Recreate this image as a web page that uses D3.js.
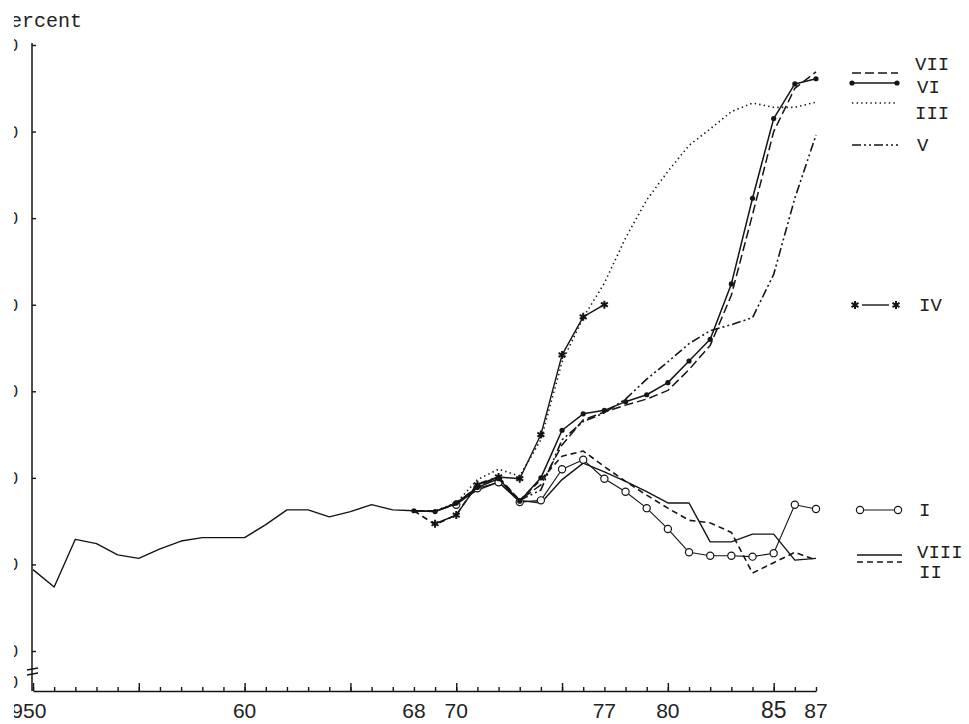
<!DOCTYPE html>
<html>
<head>
<meta charset="utf-8">
<script src="https://cdn.jsdelivr.net/npm/d3@7"></script>
<style>
    body{margin:0;background:#fff;}
    svg{display:block;}
    .ln{fill:none;stroke:#151515;stroke-linejoin:round;stroke-linecap:butt;}
    .ax path,.ax line{stroke:#151515;stroke-width:1.4px;}
    .ax text{font-family:"Liberation Sans",sans-serif;font-size:17px;fill:#222;}
    .mono{font-family:"Liberation Mono",monospace;fill:#222;}
    .xl{font-family:"Liberation Sans",sans-serif;font-size:21px;fill:#222;}
</style>
</head>
<body>
<div id="chart"></div>
<script>
// values (percent), one array per series, first year given separately
var seriesVIII = [19.4,17.4,22.9,22.4,21.1,20.7,21.8,22.7,23.1,23.1,23.1,24.6,26.3,26.3,25.5,26.1,26.9,26.3,26.2,
                  26.1,27.0,28.6,29.5,27.4,27.1,29.8,31.7,30.7,29.6,28.4,27.1,27.1,22.6,22.6,23.5,23.5,20.5,20.7]; // 1950-87
var seriesVI  = [26.2,26.1,27.1,28.9,29.9,27.3,30.0,35.5,37.4,37.8,38.8,39.6,41.0,43.5,46.0,52.4,62.3,71.5,75.5,76.1]; // 1968-87
var seriesVII = [26.2,26.2,26.9,29.1,30.0,27.4,29.2,33.8,36.7,37.6,38.4,39.1,40.1,42.5,45.3,51.1,60.4,70.0,75.0,76.9]; // 1968-87
var seriesIII = [26.2,26.2,27.1,29.8,31.0,30.2,34.4,43.4,48.5,52.5,57.7,62.1,65.4,68.4,70.3,72.3,73.3,72.8,72.8,73.4]; // 1968-87
var seriesIV  = [24.7,25.7,29.2,30.1,29.9,35.0,44.2,48.6,50.0]; // 1969-77
var seriesV   = [27.4,28.6,34.4,36.5,37.5,39.1,41.4,43.4,45.5,47.0,47.7,48.5,53.5,62.3,69.6]; // 1973-87
var seriesII  = [26.2,24.6,25.7,29.3,30.1,27.4,29.8,32.5,33.1,31.3,29.6,28.0,26.5,25.1,24.8,23.7,19.0,20.2,21.4,20.5]; // 1968-87
var seriesI   = [26.9,28.8,29.5,27.2,27.4,31.0,32.1,29.9,28.4,26.5,24.1,21.4,21.0,21.0,20.9,21.3,26.9,26.4]; // 1970-87

var seriesNames  = ["VIII","II","I","V","III","VII","VI","IV"];
var seriesStart  = [1950,1968,1970,1973,1968,1968,1968,1969];
var seriesValues = [seriesVIII,seriesII,seriesI,seriesV,seriesIII,seriesVII,seriesVI,seriesIV];

var yTickValues = [10,20,30,40,50,60,70,80];
var xLabelYears = [1950,1960,1968,1970,1977,1980,1985,1987];
var xLabelText  = ["1950","60","68","70","77","80","85","87"];
var legendNames = ["VII","VI","III","V","IV","I","VIII","II"];

var W = 969, H = 724;

var style = {
    "VIII": {w:1.4, dash:null},
    "II":   {w:1.6, dash:"6,4"},
    "I":    {w:1.1, dash:null, mark:"open"},
    "V":    {w:1.6, dash:"9,3,2,3,2,3"},
    "III":  {w:1.6, dash:"1.4,3.2"},
    "VII":  {w:1.5, dash:"9,4"},
    "VI":   {w:1.5, dash:null, mark:"dot"},
    "IV":   {w:1.4, dash:null, mark:"star"}
};

// legend layout: sample y, text y, sample x range, text x (IV's line sits between its stars)
var legendPos = {
    "VII":  {ly:73,  ty:63,  x1:852, x2:898, tx:915},
    "VI":   {ly:83,  ty:86,  x1:852, x2:897, tx:917},
    "III":  {ly:103, ty:112, x1:852, x2:898, tx:915},
    "V":    {ly:145, ty:144, x1:852, x2:898, tx:917},
    "IV":   {ly:305, ty:304, x1:855, x2:896, tx:919, gap:7},
    "I":    {ly:510, ty:509, x1:860, x2:898, tx:919},
    "VIII": {ly:555, ty:551, x1:857, x2:902, tx:917},
    "II":   {ly:562, ty:571, x1:857, x2:902, tx:919}
};

var x = d3.scaleLinear().domain([1950,1987]).range([33,816]);
var y = d3.scaleLinear().domain([10,80]).range([651,45]);
var axisY = 691;

var svg = d3.select("#chart").append("svg").attr("width",W).attr("height",H);
// the scan is trimmed on the left, cutting into the labels there
svg.append("defs").append("clipPath").attr("id","cut").append("rect")
    .attr("x",14).attr("y",0).attr("width",W).attr("height",H);
var g = svg.append("g").attr("clip-path","url(#cut)");

// x axis, minor and major ticks pointing up
var allYears = d3.range(1950,1988);
var major = allYears.filter(function(d){return d%5==0;});
g.append("g").attr("class","ax").attr("transform","translate(0,"+axisY+")")
    .call(d3.axisBottom(x).tickValues(allYears).tickSize(-4).tickSizeOuter(0).tickFormat(""));
var mj = g.append("g").attr("class","ax").attr("transform","translate(0,"+axisY+")")
    .call(d3.axisBottom(x).tickValues(major).tickSize(-8).tickFormat(""));
mj.select(".domain").remove();

g.selectAll(".xl").data(xLabelYears).enter().append("text")
    .attr("class","xl")
    .attr("x",function(d,i){return x(d) - (i==0 ? 10 : 0);})
    .attr("y",718)
    .attr("text-anchor","middle")
    .style("font-size",function(d){return d==1985 ? "23px" : null;})
    .text(function(d,i){return xLabelText[i];});

// y axis
g.append("line").attr("x1",32).attr("x2",32).attr("y1",y(80)-2).attr("y2",axisY)
    .attr("stroke","#151515").attr("stroke-width",1.5);
var ya = g.append("g").attr("class","ax").attr("transform","translate(32,0)")
    .call(d3.axisLeft(y).tickValues(yTickValues).tickSize(-4).tickPadding(14));
ya.select(".domain").remove();
g.append("text").attr("x",18).attr("y",683).attr("dy","0.32em")
    .attr("text-anchor","end").style("font-family","Liberation Sans").style("font-size","17px")
    .style("fill","#222").text("0");
// axis break
[669,674].forEach(function(b){
    g.append("line").attr("x1",27).attr("x2",38).attr("y1",b+1).attr("y2",b-1)
        .attr("stroke","#151515").attr("stroke-width",1.6);
});

g.append("text").attr("class","mono").attr("x",-2).attr("y",27)
    .style("font-size","20px").text("Percent");

// series
var line = d3.line().x(function(d){return x(d.year);}).y(function(d){return y(d.v);});
var star = d3.symbol().type(d3.symbolAsterisk).size(45);

seriesNames.forEach(function(name,k){
    var pts = seriesValues[k].map(function(v,i){return {year:seriesStart[k]+i, v:v};});
    var s = style[name];
    g.append("path").datum(pts).attr("class","ln")
        .attr("d",line).attr("stroke-width",s.w)
        .attr("stroke-dasharray",s.dash);
    drawMarks(g, s.mark, pts.map(function(p){return [x(p.year), y(p.v)];}));
});

function drawMarks(sel, mark, xy){
    if(mark=="dot"){
        sel.selectAll(null).data(xy).enter().append("circle")
            .attr("cx",function(d){return d[0];}).attr("cy",function(d){return d[1];})
            .attr("r",2.6).attr("fill","#151515");
    }else if(mark=="open"){
        sel.selectAll(null).data(xy).enter().append("circle")
            .attr("cx",function(d){return d[0];}).attr("cy",function(d){return d[1];})
            .attr("r",3.6).attr("fill","#fff").attr("stroke","#151515").attr("stroke-width",1.2);
    }else if(mark=="star"){
        sel.selectAll(null).data(xy).enter().append("path")
            .attr("d",star)
            .attr("transform",function(d){return "translate("+d[0]+","+d[1]+")";})
            .attr("fill","none").attr("stroke","#151515").attr("stroke-width",2);
    }
}

// legend
legendNames.forEach(function(name){
    var p = legendPos[name], s = style[name], gap = p.gap || 0;
    g.append("line").attr("class","ln")
        .attr("x1",p.x1+gap).attr("x2",p.x2-gap).attr("y1",p.ly).attr("y2",p.ly)
        .attr("stroke-width",s.w).attr("stroke-dasharray",s.dash);
    drawMarks(g, s.mark, [[p.x1,p.ly],[p.x2,p.ly]]);
    g.append("text").attr("class","mono").attr("x",p.tx).attr("y",p.ty)
        .attr("dy","0.35em").style("font-size","19px").text(name);
});
</script>
</body>
</html>
